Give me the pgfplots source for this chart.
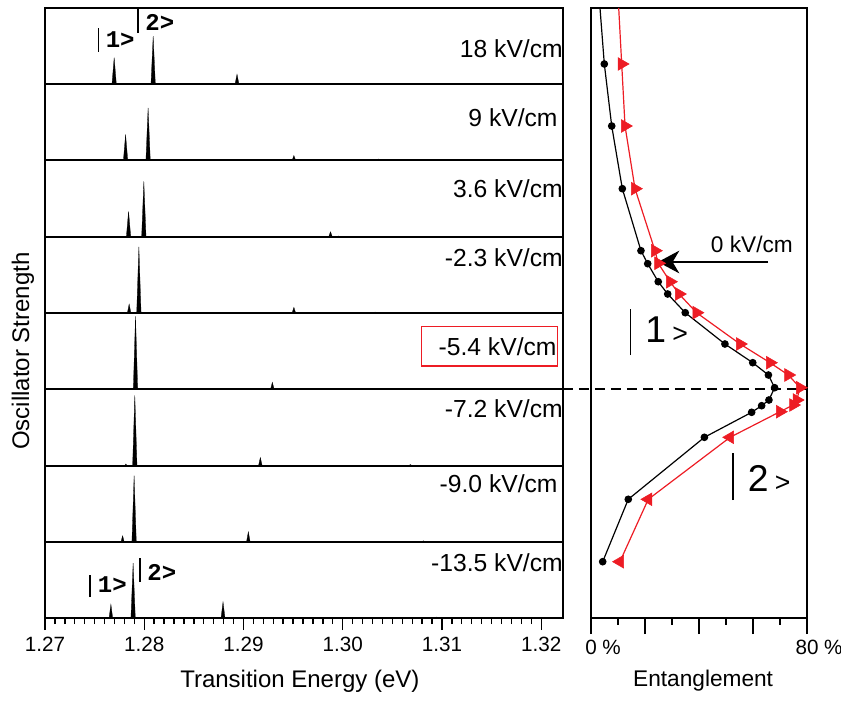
\documentclass[border=0pt]{standalone}
\usepackage{pgfplots}
\pgfplotsset{compat=1.18}
\usepackage{pgfplotstable}
\usepackage{fontspec}
\setmainfont{Liberation Sans}
\newfontfamily\ketfont{Liberation Mono}
\usetikzlibrary{arrows.meta}
\definecolor{rOne}{HTML}{ED1C24}

% entanglement curves (x in %, y = height in the right panel)
\pgfplotstableread{
x y
3.33 610
4.93 554
7.67 492
11.6 429.3
18.5 367.3
21.0 354.3
24.9 336.3
28.4 324
34.9 305.3
49.6 274
59.9 255.3
65.7 243
68.0 230.3
65.9 218
63.2 212.3
59.5 205.7
42.0 180.7
13.8 118.7
4.33 56.3
}\blackdata

\pgfplotstableread{
x y
10.26 610
11.37 554
12.6 492
16.3 429.3
23.7 367.3
24.9 354.7
29.3 336.3
32.6 324
39.1 305.3
55.2 274
66.3 255.3
73.1 243
77.4 230.3
76.2 218
74.9 213
70.0 206.3
51.5 180.7
21.2 118.7
10.7 56.3
}\reddata

\pgfplotsset{
  panel/.style={scale only axis, width=388.5pt, height=57.1875pt,
    xmin=1.27, xmax=1.3222, ymin=0, ymax=1, xtick=\empty, ytick=\empty,
    axis line style={line width=1.5pt}, clip=false, anchor=south west},
  spec/.style={fill=black, draw=black, line width=0.2pt},
}
\tikzset{
  kv/.style={anchor=east, inner sep=0pt, font=\fontsize{18.5}{18.5}\selectfont},
  ket/.style={anchor=west, inner sep=0pt, font=\ketfont\bfseries\fontsize{18}{18}\selectfont},
}

\begin{document}
\begin{tikzpicture}
\path[use as bounding box] (0pt,0pt) rectangle (630.75pt,525pt);

% 18 kV/cm
\begin{axis}[panel, at={(33.75pt,461.8125pt)}]
\addplot[spec] coordinates {(1.27,0)(1.27675,0)(1.27697,0.350)(1.27719,0)(1.28068,0)(1.28090,0.630)(1.28112,0)(1.28915,0)(1.28935,0.131)(1.28955,0)(1.31060,0)(1.31074,0.013)(1.31088,0)(1.3222,0)};
\node[kv] at (rel axis cs:1,0.471) {18 kV/cm};
\draw[line width=1pt] (axis cs:1.27540,0.423) -- (axis cs:1.27540,0.738);
\node[ket] at (axis cs:1.27610,0.58) {1>};
\draw[line width=1pt] (axis cs:1.27936,0.672) -- (axis cs:1.27936,1);
\node[ket] at (axis cs:1.28010,0.816) {2>};
\end{axis}

% 9 kV/cm
\begin{axis}[panel, at={(33.75pt,404.625pt)}]
\addplot[spec] coordinates {(1.27,0)(1.27790,0)(1.27812,0.341)(1.27834,0)(1.28017,0)(1.28039,0.691)(1.28061,0)(1.29490,0)(1.29508,0.066)(1.29526,0)(1.30346,0)(1.30360,0.02)(1.30374,0)(1.3222,0)};
\node[kv] at (rel axis cs:0.99,0.564) {9 kV/cm};
\end{axis}

% 3.6 kV/cm
\begin{axis}[panel, at={(33.75pt,347.4375pt)}]
\addplot[spec] coordinates {(1.27,0)(1.27820,0)(1.27842,0.332)(1.27864,0)(1.27974,0)(1.27996,0.725)(1.28018,0)(1.29859,0)(1.29877,0.066)(1.29895,0)(1.29950,0)(1.29960,0.01)(1.29970,0)(1.3222,0)};
\node[kv] at (rel axis cs:1,0.635) {3.6 kV/cm};
\end{axis}

% -2.3 kV/cm
\begin{axis}[panel, at={(33.75pt,290.25pt)}]
\addplot[spec] coordinates {(1.27,0)(1.27830,0)(1.27848,0.118)(1.27866,0)(1.27924,0)(1.27946,0.866)(1.27968,0)(1.29490,0)(1.29508,0.075)(1.29526,0)(1.30313,0)(1.30327,0.013)(1.30341,0)(1.3222,0)};
\node[kv] at (rel axis cs:1,0.728) {-2.3 kV/cm};
\end{axis}

% -5.4 kV/cm
\begin{axis}[panel, at={(33.75pt,233.0625pt)}]
\addplot[spec] coordinates {(1.27,0)(1.27890,0)(1.27912,0.957)(1.27934,0)(1.29273,0)(1.29291,0.092)(1.29309,0)(1.30540,0)(1.30554,0.013)(1.30568,0)(1.3222,0)};
\draw[rOne, line width=0.8pt] (rel axis cs:0.727,0.305) rectangle (rel axis cs:0.990,0.820);
\node[kv] at (rel axis cs:0.988,0.558) {-5.4 kV/cm};
\end{axis}

% -7.2 kV/cm
\begin{axis}[panel, at={(33.75pt,175.875pt)}]
\addplot[spec] coordinates {(1.27,0)(1.27805,0)(1.27815,0.02)(1.27825,0)(1.27883,0)(1.27905,0.918)(1.27927,0)(1.29152,0)(1.29170,0.105)(1.29188,0)(1.30668,0)(1.30682,0.013)(1.30696,0)(1.3222,0)};
\node[kv] at (rel axis cs:1,0.741) {-7.2 kV/cm};
\end{axis}

% -9.0 kV/cm
\begin{axis}[panel, at={(33.75pt,118.6875pt)}]
\addplot[spec] coordinates {(1.27,0)(1.27766,0)(1.27782,0.079)(1.27798,0)(1.27876,0)(1.27898,0.866)(1.27920,0)(1.29031,0)(1.29049,0.131)(1.29067,0)(1.30799,0)(1.30813,0.013)(1.30827,0)(1.3222,0)};
\node[kv] at (rel axis cs:0.99,0.757) {-9.0 kV/cm};
\end{axis}

% -13.5 kV/cm
\begin{axis}[panel, at={(33.75pt,61.5pt)},
  xtick={1.27,1.28,1.29,1.30,1.31,1.32},
  xticklabels={1.27,1.28,1.29,1.30,1.31,1.32},
  minor x tick num=9, xtick pos=lower, tick align=outside,
  major tick length=9pt, minor tick length=4.5pt,
  tick style={line width=1pt, black},
  xticklabel style={font=\fontsize{15.5}{15.5}\selectfont, yshift=-2pt}]
\addplot[spec] coordinates {(1.27,0)(1.27646,0)(1.27664,0.18)(1.27682,0)(1.27866,0)(1.27888,0.721)(1.27910,0)(1.28774,0)(1.28794,0.21)(1.28814,0)(1.30930,0)(1.30944,0.013)(1.30958,0)(1.3222,0)};
\node[kv] at (rel axis cs:1,0.728) {-13.5 kV/cm};
\draw[line width=1pt] (axis cs:1.27453,0.275) -- (axis cs:1.27453,0.564);
\node[ket] at (axis cs:1.27530,0.433) {1>};
\draw[line width=1pt] (axis cs:1.27956,0.472) -- (axis cs:1.27956,0.787);
\node[ket] at (axis cs:1.28030,0.603) {2>};
\node[font=\fontsize{18}{18}\selectfont] at (rel axis cs:0.492,-0.826) {Transition Energy (eV)};
\end{axis}

\node[rotate=90, font=\fontsize{18}{18}\selectfont] at (17.25pt,261.75pt) {Oscillator Strength};

% entanglement panel
\begin{axis}[scale only axis, width=162pt, height=457.5pt, at={(443.25pt,61.5pt)}, anchor=south west,
  xmin=0, xmax=80, ymin=0, ymax=610, ytick=\empty,
  xtick={0,20,40,60,80}, xticklabels={0\rlap{ \%},,,,80\rlap{ \%}},
  minor xtick={10,30,50,70}, xtick pos=lower, tick align=outside,
  major tick length=12pt, minor tick length=5pt,
  tick style={line width=0.8pt, black},
  axis line style={line width=0.9pt}, clip=false,
  xticklabel style={font=\fontsize{15.5}{15.5}\selectfont, yshift=-1pt}]
\addplot[black, line width=0.9pt, mark=*, mark size=2.4pt, mark indices={2,...,19}] table {\blackdata};
\addplot[rOne, line width=0.9pt, no marks] table {\reddata};
\addplot[rOne, only marks, mark=triangle*, mark size=5.5pt, mark options={rotate=-90}, mark indices={2,...,16}] table {\reddata};
\addplot[rOne, only marks, mark=triangle*, mark size=5.5pt, mark options={rotate=90}, mark indices={17,...,19}] table {\reddata};
\draw[black, line width=1.5pt, dash pattern=on 7.5pt off 4.5pt] (axis cs:-10.4,229) -- (axis cs:80.4,229);
\draw[black, line width=1.5pt, -{Stealth[length=16pt, width=17pt, inset=5pt]}] (axis cs:65.6,356) -- (axis cs:24.8,356);
\node[font=\fontsize{17}{17}\selectfont] at (axis cs:59.6,374) {0 kV/cm};
\draw[line width=0.9pt] (axis cs:14.7,263) -- (axis cs:14.7,309);
\node[anchor=west, inner sep=0pt, font=\fontsize{28}{28}\selectfont] at (axis cs:20,288) {1\,{\fontsize{20}{20}\selectfont >}};
\draw[line width=0.9pt] (axis cs:52.6,118) -- (axis cs:52.6,165);
\node[anchor=west, inner sep=0pt, font=\fontsize{28}{28}\selectfont] at (axis cs:58,140) {2\,{\fontsize{20}{20}\selectfont >}};
\node[font=\fontsize{17}{17}\selectfont] at (rel axis cs:0.519,-0.102) {Entanglement};
\end{axis}
\end{tikzpicture}
\end{document}
